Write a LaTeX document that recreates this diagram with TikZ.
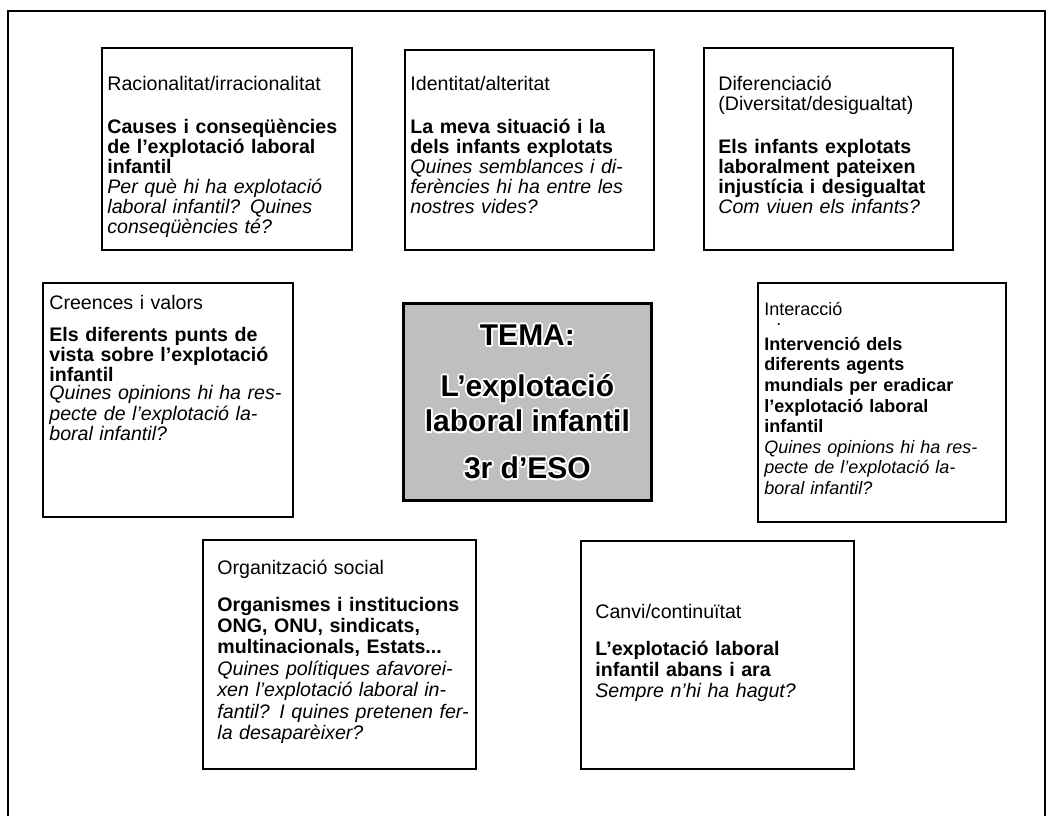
\documentclass[tikz,border=0pt]{standalone}
\usepackage{fontspec}
\setmainfont{Liberation Sans}
\usetikzlibrary{positioning}
\setlength{\lineskiplimit}{-20pt}
% one justified line of a card
\newcommand{\jl}[1]{\makebox[\linewidth][s]{#1}}
\newcommand{\temalines}{TEMA:\\[8pt]L’explotació\\laboral infantil\\[6pt]3r d’ESO}

\tikzset{
  card/.style={draw, line width=0.75pt, anchor=north west, inner sep=0pt},
  cardtext/.style={anchor=base west, inner sep=0pt, align=left, text width=#1,
    font=\fontsize{9.8}{10}\selectfont},
  tematext/.style={align=center, inner sep=0pt, font=\fontsize{15}{17.5}\selectfont\bfseries}
}

\begin{document}
\begin{tikzpicture}[x=0.5pt, y=-0.5pt]
\useasboundingbox (0,0) rectangle (1047,816);

% frame
\draw[line width=1pt] (8,816) -- (8,11) -- (1045,11) -- (1045,816);

% top row
\node[card, minimum width=125pt, minimum height=101pt] (raci) at (101,47) {};
\node[cardtext=114pt] (racit) at (107,90) {%
Racionalitat/irracionalitat\\[11.5pt]
\jl{\bfseries Causes i conseqüències}\\
\jl{\bfseries de l’explotació laboral}\\
{\bfseries infantil}\\
\jl{\itshape Per què hi ha explotació}\\
\jl{\itshape laboral infantil? Quines}\\
{\itshape conseqüències té?}};

\node[card, minimum width=124.5pt, minimum height=100pt] (iden) at (404,49) {};
\node[cardtext=118.5pt] (ident) at (410,90) {%
Identitat/alteritat\\[11.5pt]
\jl{\bfseries La meva situació i la}\\
{\bfseries dels infants explotats}\\
\jl{\itshape Quines semblances i di-}\\
\jl{\itshape ferències hi ha entre les}\\
{\itshape nostres vides?}};

\node[card, minimum width=124.5pt, minimum height=101pt] (dife) at (703,47) {};
\node[cardtext=114.5pt] (difet) at (718,90) {%
Diferenciació\\
(Diversitat/desigualtat)\\[11.5pt]
{\bfseries Els infants explotats}\\
{\bfseries laboralment pateixen}\\
\jl{\bfseries injustícia i desigualtat}\\
{\itshape Com viuen els infants?}};

% middle row
\node[card, minimum width=125pt, minimum height=117pt] (cree) at (42,282) {};
\node[cardtext=116.5pt, font=\fontsize{9.8}{9}\selectfont] (creet) at (49,309) {%
Creences i valors\\[7pt]
\jl{\bfseries Els diferents punts de}\\
\jl{\bfseries vista sobre l’explotació}\\
{\bfseries infantil}\\
\jl{\itshape Quines opinions hi ha res-}\\
\jl{\itshape pecte de l’explotació la-}\\
{\itshape boral infantil?}};

\node[card, line width=1.4pt, fill=black!25, minimum width=124pt, minimum height=98.5pt] (tema) at (402,302) {};
\foreach \a in {0,30,...,330}
  \node[tematext, white, shift={(\a:0.9pt)}] (halo\a) at (tema.center) {\temalines};
\node[tematext] (temat) at (tema.center) {\temalines};

\node[card, minimum width=124pt, minimum height=119.5pt] (inte) at (757,282) {};
\node[cardtext=106pt, font=\fontsize{9}{10.3}\selectfont] (intet) at (764,315) {%
Interacció\\[-5pt]
\hspace*{6pt}.\\[2pt]
{\bfseries Intervenció dels}\\
{\bfseries diferents agents}\\
\jl{\bfseries mundials per eradicar}\\
{\bfseries l’explotació laboral}\\
{\bfseries infantil}\\
\jl{\itshape Quines opinions hi ha res-}\\
\jl{\itshape pecte de l’explotació la-}\\
{\itshape boral infantil?}};

% bottom row
\node[card, minimum width=136.5pt, minimum height=114.5pt] (orga) at (202,539) {};
\node[cardtext=121pt, font=\fontsize{9.8}{10.7}\selectfont] (orgat) at (217,574) {%
Organització social\\[7.8pt]
\jl{\bfseries Organismes i institucions}\\
{\bfseries ONG, ONU, sindicats,}\\
{\bfseries multinacionals, Estats...}\\
\jl{\itshape Quines polítiques afavorei-}\\
\jl{\itshape xen l’explotació laboral in-}\\
\jl{\itshape fantil? I quines pretenen fer-}\\
{\itshape la desaparèixer?}};

\node[card, minimum width=136.5pt, minimum height=114pt] (canv) at (580,540) {};
\node[cardtext=125pt, font=\fontsize{9.8}{10.7}\selectfont] (canvt) at (595,618) {%
Canvi/continuïtat\\[7.8pt]
{\bfseries L’explotació laboral}\\
{\bfseries infantil abans i ara}\\
{\itshape Sempre n’hi ha hagut?}};

\end{tikzpicture}
\end{document}
